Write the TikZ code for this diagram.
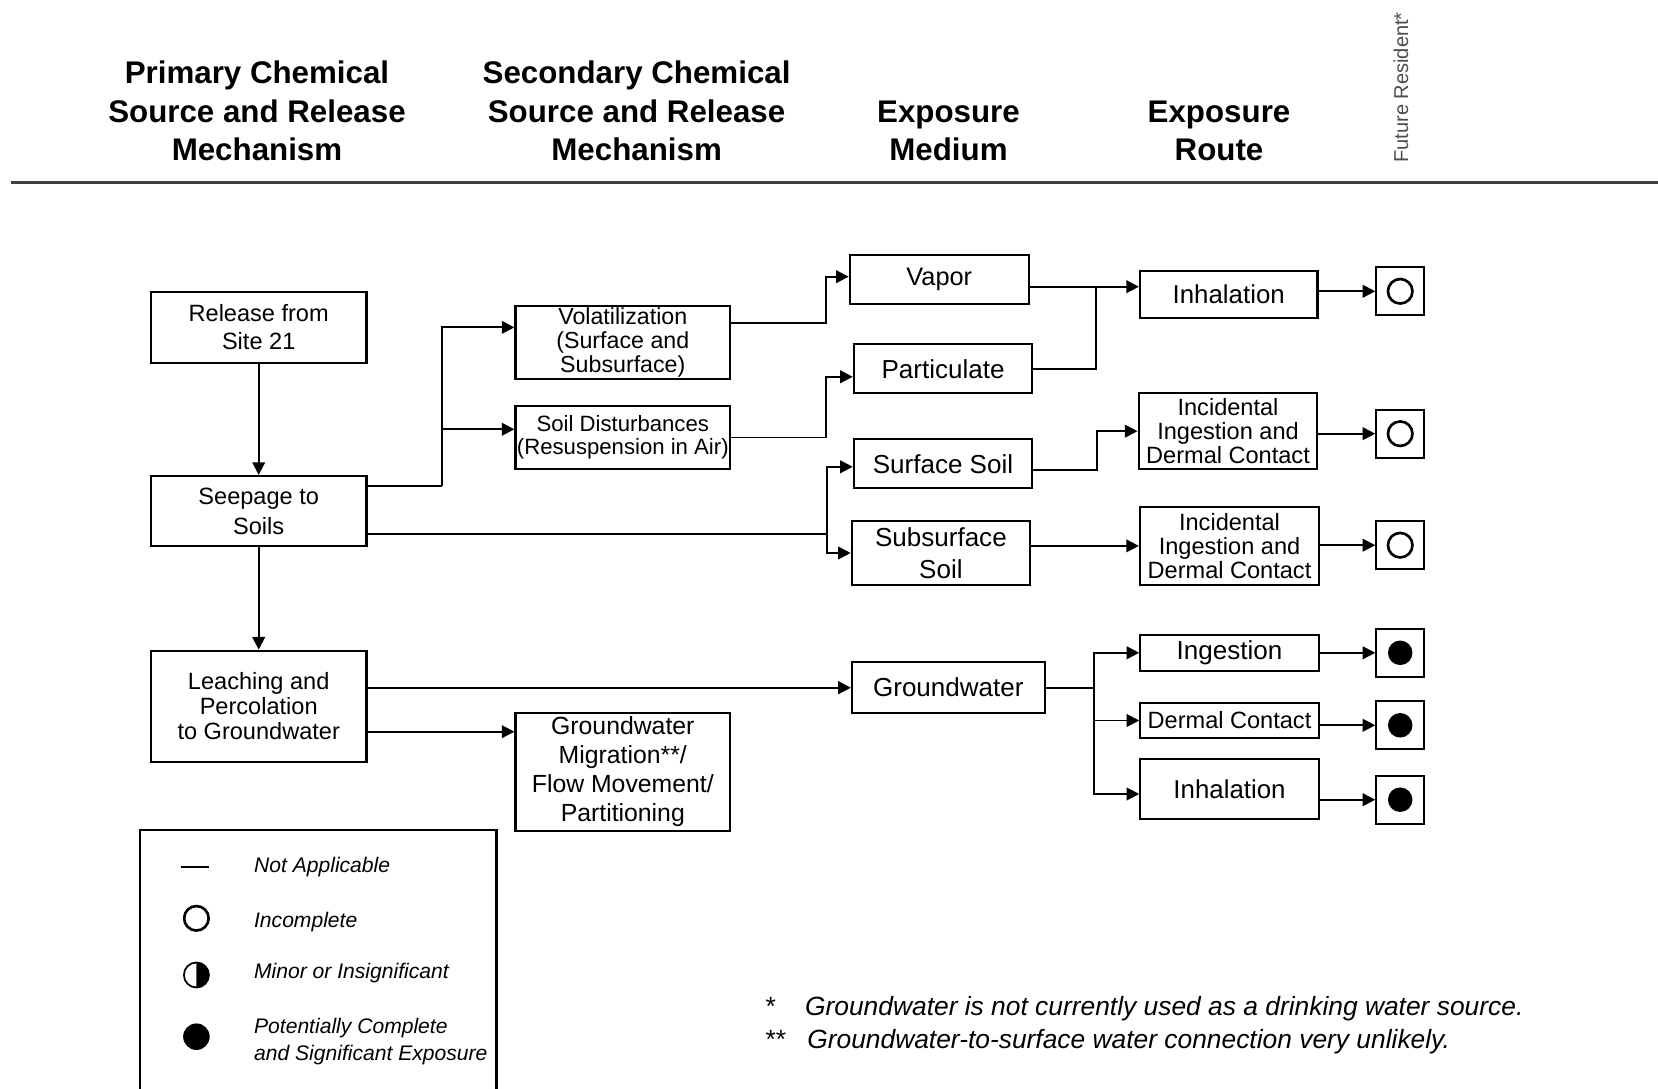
\documentclass[tikz,border=0pt]{standalone}
\usepackage{fontspec}
\setmainfont{Liberation Sans}
\usetikzlibrary{arrows.meta}

\begin{document}
\begin{tikzpicture}[x=0.01cm,y=-0.01cm,
  box/.style={draw,line width=.6pt,inner sep=0pt,align=center},
  hd/.style={align=center,font=\fontsize{8.9}{11}\selectfont\bfseries},
  conn/.style={line width=.55pt},
  arr/.style={conn,-{Triangle[length=3.6pt,width=3.6pt]}},
  recbox/.style={draw,line width=.6pt,minimum size=.477cm,inner sep=0pt},
  opendot/.style={circle,draw,line width=.75pt,minimum size=.245cm,inner sep=0pt,outer sep=0pt},
  fulldot/.style={circle,fill=black,minimum size=.245cm,inner sep=0pt,outer sep=0pt},
  lgtext/.style={anchor=west,inner sep=0pt,align=left,font=\fontsize{6}{7.6}\selectfont\itshape},
  note/.style={anchor=base west,inner sep=0pt,font=\fontsize{7.5}{9}\selectfont\itshape}]
  \useasboundingbox (0,0) rectangle (1658,1089);

  % column headings
  \node[hd] (hdprim) at (257,111) {Primary Chemical\\Source and Release\\Mechanism};
  \node[hd] (hdsec) at (636.6,111) {Secondary Chemical\\Source and Release\\Mechanism};
  \node[hd] (hdmed) at (948.5,131) {Exposure\\Medium};
  \node[hd] (hdroute) at (1219,131) {Exposure\\Route};
  \node[rotate=90,text=black!70,font=\fontsize{5.7}{7}\selectfont] (hdrec) at (1401,87.5) {Future Resident*};
  \draw[line width=1pt,black!75] (10.6,182.7) -- (1658,182.7);

  % sources
  \node[box,minimum width=2.155cm,minimum height=.71cm,font=\fontsize{6.7}{8.1}\selectfont] (rel) at (258.7,327.2) {Release from\\Site 21};
  \node[box,minimum width=2.155cm,minimum height=.70cm,font=\fontsize{6.7}{8.5}\selectfont] (seep) at (258.7,511) {Seepage to\\Soils};
  \node[box,minimum width=2.155cm,minimum height=1.11cm,font=\fontsize{6.7}{7.1}\selectfont] (leach) at (258.7,706.2) {Leaching and\\Percolation\\to Groundwater};

  \node[box,minimum width=2.145cm,minimum height=.733cm,font=\fontsize{6.6}{6.8}\selectfont] (volat) at (622.8,342.7) {Volatilization\\(Surface and\\Subsurface)};
  \node[box,minimum width=2.145cm,minimum height=.63cm,font=\fontsize{6.3}{6.4}\selectfont] (soildist) at (622.8,437.5) {Soil Disturbances\\(Resuspension in Air)};
  \node[box,minimum width=2.145cm,minimum height=1.183cm,font=\fontsize{7.05}{8.2}\selectfont] (gwmig) at (622.8,771.8) {Groundwater\\Migration**/\\Flow Movement/\\Partitioning};

  % media
  \node[box,minimum width=1.79cm,minimum height=.49cm,font=\fontsize{7.2}{8.6}\selectfont] (vapor) at (939.3,279.8) {Vapor};
  \node[box,minimum width=1.783cm,minimum height=.49cm,font=\fontsize{7.4}{8.8}\selectfont] (partic) at (943,368.8) {Particulate};
  \node[box,minimum width=1.783cm,minimum height=.49cm,font=\fontsize{7.4}{8.8}\selectfont] (surfsoil) at (943,463.8) {Surface Soil};
  \node[box,minimum width=1.782cm,minimum height=.64cm,font=\fontsize{7.4}{9.2}\selectfont] (subsoil) at (940.9,553) {Subsurface\\Soil};
  \node[box,minimum width=1.926cm,minimum height=.513cm,font=\fontsize{7.4}{8.8}\selectfont] (gw) at (948.3,687.7) {Groundwater};

  % routes
  \node[box,minimum width=1.774cm,minimum height=.467cm,font=\fontsize{7.35}{8.8}\selectfont] (inhal1) at (1228.7,294.3) {Inhalation};
  \node[box,minimum width=1.787cm,minimum height=.757cm,font=\fontsize{6.7}{6.9}\selectfont] (incid1) at (1228,431.2) {Incidental\\Ingestion and\\Dermal Contact};
  \node[box,minimum width=1.79cm,minimum height=.783cm,font=\fontsize{6.7}{6.9}\selectfont] (incid2) at (1229.5,545.9) {Incidental\\Ingestion and\\Dermal Contact};
  \node[box,minimum width=1.783cm,minimum height=.357cm,font=\fontsize{7.4}{8.8}\selectfont] (ingest) at (1229.5,652.8) {Ingestion};
  \node[box,minimum width=1.783cm,minimum height=.356cm,font=\fontsize{6.7}{8}\selectfont] (dermal) at (1229.5,720.5) {Dermal Contact};
  \node[box,minimum width=1.783cm,minimum height=.6cm,font=\fontsize{7.35}{8.8}\selectfont] (inhal2) at (1229.5,789.3) {Inhalation};

  % receptor
  \node[recbox] (rc1) at (1400.2,291.3) {};
  \node[recbox] (rc2) at (1400.2,433.7) {};
  \node[recbox] (rc3) at (1400.2,545.2) {};
  \node[recbox] (rc4) at (1400.2,652.8) {};
  \node[recbox] (rc5) at (1400.2,725.3) {};
  \node[recbox] (rc6) at (1400.2,799.7) {};
  \node[opendot] (rc1d) at (rc1) {};
  \node[opendot] (rc2d) at (rc2) {};
  \node[opendot] (rc3d) at (rc3) {};
  \node[fulldot] (rc4d) at (rc4) {};
  \node[fulldot] (rc5d) at (rc5) {};
  \node[fulldot] (rc6d) at (rc6) {};

  % junctions
  \coordinate (seepj) at (442.4,486);
  \coordinate (soilj) at (827,534.3);
  \coordinate (airj) at (1096.4,286.7);
  \coordinate (gwj) at (1094,687.7);
  \coordinate (leachlo) at (366.5,731.7);

  \draw[arr] (rel) -- (seep);
  \draw[arr] (seep) -- (leach);
  \draw[conn] (seep.east |- seepj) -- (seepj);
  \draw[arr] (seepj) |- ([yshift=.153cm]volat.west);
  \draw[arr] (seepj) |- ([yshift=.082cm]soildist.west);
  \draw[conn] (seep.east |- soilj) -- (soilj);
  \draw[arr] (soilj) |- ([yshift=-.03cm]surfsoil.west);
  \draw[arr] (soilj) |- (subsoil.west);

  \draw[arr] ([yshift=.194cm]volat.east) -- ++(95,0) |- ([yshift=.031cm]vapor.west);
  \draw[arr] (soildist.east) -- ++(95,0) |- ([yshift=-.08cm]partic.west);
  \draw[arr] (vapor.east |- airj) -- (inhal1.west |- airj);
  \draw[conn] (partic.east) -| (airj);
  \draw[arr] ([yshift=-.062cm]surfsoil.east) -- ++(64,0) |- (incid1.west);
  \draw[arr] (subsoil.east |- incid2) -- (incid2.west);

  \draw[arr] (leach.east |- gw) -- (gw.west);
  \draw[arr] (leachlo) -- (gwmig.west |- leachlo);
  \draw[conn] (gw.east) -- (gwj);
  \draw[arr] (gwj) |- (ingest.west);
  \draw[arr] (gwj) |- (dermal.west);
  \draw[arr] (gwj) |- ([yshift=-.047cm]inhal2.west);

  \draw[arr] (inhal1.east |- rc1) -- (rc1.west);
  \draw[arr] (incid1.east |- rc2) -- (rc2.west);
  \draw[arr] (incid2.east |- rc3) -- (rc3.west);
  \draw[arr] (ingest.east |- rc4) -- (rc4.west);
  \draw[arr] (dermal.east |- rc5) -- (rc5.west);
  \draw[arr] (inhal2.east |- rc6) -- (rc6.west);

  % legend
  \draw[line width=.6pt] (140,830) rectangle (496.5,1120);
  \draw[conn] (181.4,866.7) -- (209,866.7);
  \node[opendot,minimum size=.245cm] (lgopen) at (196.4,918.3) {};
  \node[opendot,minimum size=.25cm,line width=.5pt] (lghalf) at (196.4,975) {};
  \fill (lghalf.north) arc[start angle=90,end angle=-90,radius=.125cm] -- cycle;
  \node[fulldot,minimum size=.265cm] (lgfull) at (196.4,1036.7) {};
  \node[lgtext] (lgna) at (253.4,866.7) {Not Applicable};
  \node[lgtext] (lginc) at (253.4,921.7) {Incomplete};
  \node[lgtext] (lgmin) at (253.4,973.3) {Minor or Insignificant};
  \node[lgtext] (lgpot) at (253.4,1041.7) {Potentially Complete\\and Significant Exposure};

  % footnotes
  \node[note,font=\fontsize{7.5}{9}\selectfont] (ast1) at (765,1015) {*};
  \node[note] (fn1) at (804.4,1015) {Groundwater is not currently used as a drinking water source.};
  \node[note,font=\fontsize{7.5}{9}\selectfont] (ast2) at (765,1048) {**};
  \node[note] (fn2) at (806.6,1048) {Groundwater-to-surface water connection very unlikely.};
\end{tikzpicture}
\end{document}
